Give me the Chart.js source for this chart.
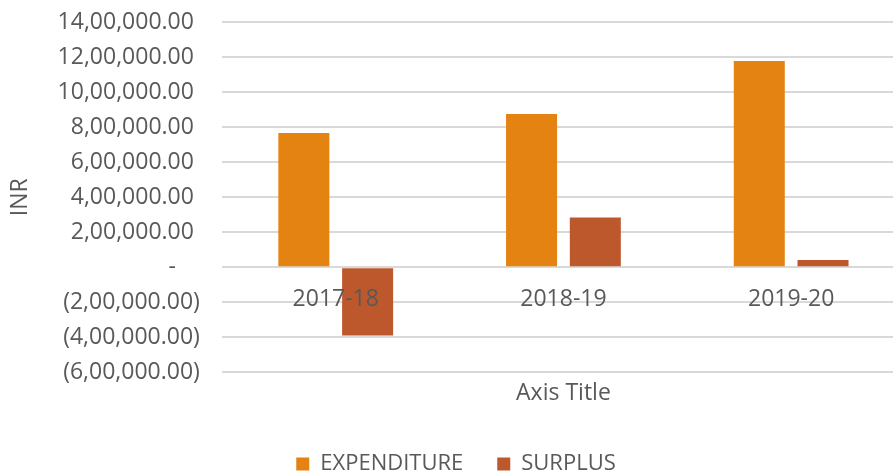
<!DOCTYPE html>
<html>
<head>
<meta charset="utf-8">
<script src="https://cdn.jsdelivr.net/npm/chart.js@4/dist/chart.umd.min.js"></script>
<style>
  html, body { margin: 0; padding: 0; background: #fff; overflow: hidden; }
  #wrap { width: 906px; height: 476px; }
</style>
</head>
<body>
<div id="wrap"><canvas id="budgetChart"></canvas></div>
<script>
// values (INR)
const years = ["2017-18", "2018-19", "2019-20"];
const expenditure = [766000, 875000, 1177000];
const surplus = [-390000, 284000, 41000];

const textColor = "#595959";
const fontFamily = "'Open Sans', sans-serif";

// Indian style number format, negatives in brackets (Excel accounting look)
function formatInr(value) {
  if (value === 0) return "-    ";
  const s = Math.abs(value).toLocaleString("en-IN", {
    minimumFractionDigits: 2,
    maximumFractionDigits: 2,
  });
  return value < 0 ? "(" + s + ")" : s + " ";
}

new Chart(document.getElementById("budgetChart"), {
  type: "bar",
  data: {
    labels: years,
    datasets: [
      {
        label: "EXPENDITURE",
        data: expenditure,
        backgroundColor: "#E48312",
        categoryPercentage: 0.56,
        barPercentage: 0.8,
      },
      {
        label: "SURPLUS",
        data: surplus,
        backgroundColor: "#BD582C",
        categoryPercentage: 0.56,
        barPercentage: 0.8,
      },
    ],
  },
  options: {
    responsive: true,
    maintainAspectRatio: false,
    animation: false,
    layout: { padding: { top: 22, right: 1, left: 7, bottom: 0 } },
    scales: {
      // category labels sit on the zero line, drawn over the bars
      x: {
        type: "category",
        position: { y: 0 },
        grid: { display: false },
        border: { display: false },
        ticks: {
          z: 1,
          color: textColor,
          font: { family: fontFamily, size: 23 },
          padding: 10,
        },
      },
      // bottom axis only carries the title
      x2: {
        type: "category",
        position: "bottom",
        labels: years,
        grid: { display: false, drawTicks: false },
        border: { display: false },
        ticks: { display: false },
        title: {
          display: true,
          text: "Axis Title",
          color: textColor,
          font: { family: fontFamily, size: 23 },
          padding: { top: 7, bottom: 12 },
        },
      },
      y: {
        min: -600000,
        max: 1400000,
        ticks: {
          stepSize: 200000,
          color: textColor,
          font: { family: fontFamily, size: 23 },
          padding: 0,
          callback: (value) => formatInr(value),
        },
        grid: {
          color: "#d9d9d9",
          lineWidth: 2,
          drawTicks: true,
          tickLength: 22,
          tickColor: "rgba(0,0,0,0)",
        },
        border: { display: false },
        title: {
          display: true,
          text: "INR",
          color: textColor,
          font: { family: fontFamily, size: 23 },
          padding: { top: 0, bottom: 23 },
        },
      },
    },
    plugins: {
      legend: {
        position: "bottom",
        maxHeight: 57,
        labels: {
          color: textColor,
          font: { family: fontFamily, size: 22 },
          boxWidth: 13,
          boxHeight: 13,
          padding: 34,
        },
      },
      tooltip: { enabled: false },
    },
  },
});
</script>
</body>
</html>
